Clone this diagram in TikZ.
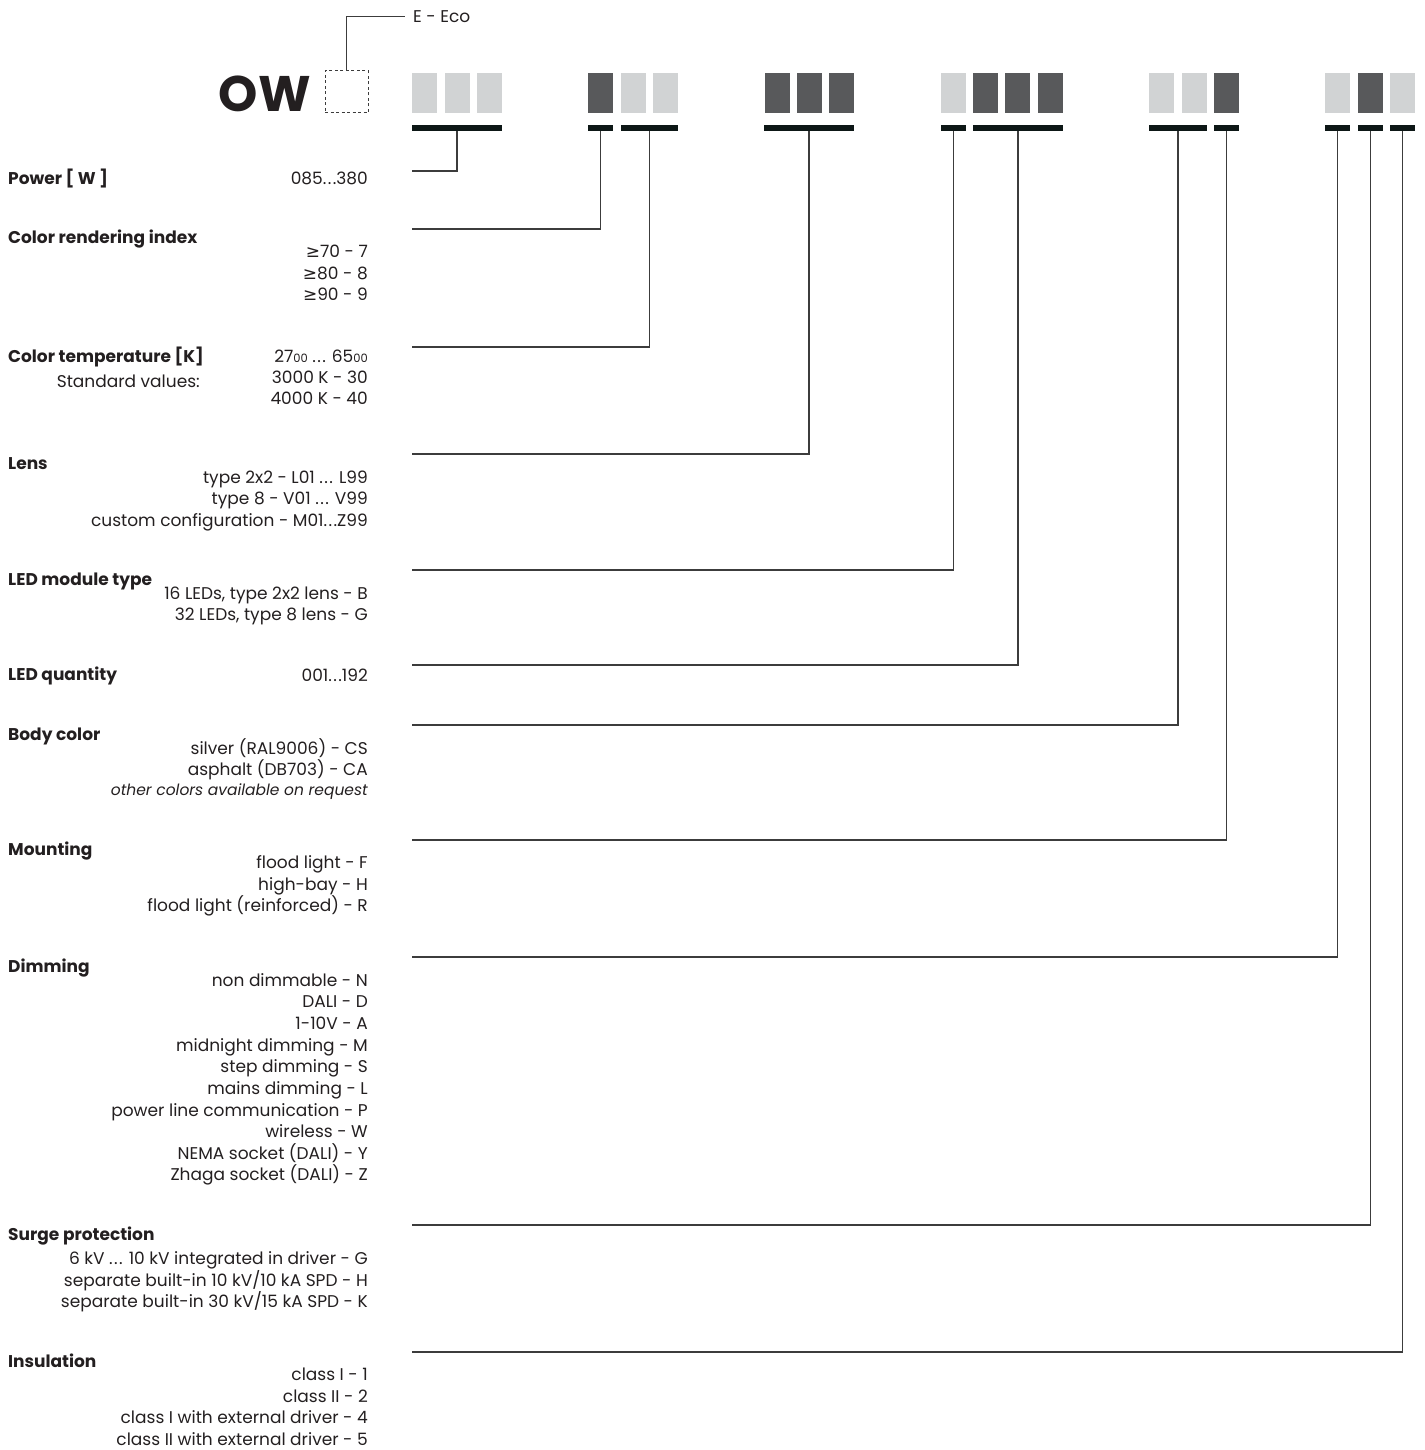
\documentclass[tikz,border=0pt]{standalone}
\usepackage{fontspec}
\setmainfont{Poppins}
\newfontfamily\symfont{DejaVu Sans}
\definecolor{BoxLight}{HTML}{D1D3D4}
\definecolor{BoxDark}{HTML}{58595B}
\definecolor{BarBlack}{HTML}{0D1716}
\definecolor{LineGray}{HTML}{3C3C3C}
\definecolor{TextBlack}{HTML}{231F20}
\tikzstyle{LightBox}=[rectangle, fill=BoxLight, minimum width=25pt, minimum height=40pt, inner sep=0pt]
\tikzstyle{DarkBox}=[LightBox, fill=BoxDark]
\tikzstyle{CodeBar}=[rectangle, fill=BarBlack, minimum height=6pt, inner sep=0pt]
\tikzstyle{Leader}=[draw=LineGray, line width=1.3pt]
\tikzstyle{KeyNode}=[anchor=base west, inner sep=0pt, text=TextBlack, font=\bfseries\fontsize{17}{20}\selectfont]
\tikzstyle{ValNode}=[anchor=base east, inner sep=0pt, text=TextBlack, font=\fontsize{17}{20}\selectfont]
\newcommand{\atleast}{{\symfont\char"2265}}
\newcommand{\smallzero}{{\fontsize{11.5}{11.5}\selectfont 00}}
\newcommand{\threedots}{.\kern1.4pt.\kern1.4pt.}

\begin{document}
\begin{tikzpicture}[x=1pt, y=-1pt]
\useasboundingbox (0,0) rectangle (1424,1450);

% type prefix
\node[anchor=base east, inner sep=0pt, text=TextBlack, font=\bfseries\fontsize{50}{50}\selectfont](OW) at (311,112) {OW};
\node[rectangle, draw=LineGray, line width=1pt, dash pattern=on 3pt off 2.5pt, minimum width=43pt, minimum height=42pt, inner sep=0pt](EcoBox) at (346.5,92) {};
\node[ValNode, anchor=base west](Eco) at (413,23) {E - Eco};
\coordinate (EcoEnd) at (405,17);
\draw[Leader, line width=1pt](EcoBox.north) |- (EcoEnd);

% code boxes
\node[LightBox](P1) at (424.5,93) {};
\node[LightBox](P2) at (457.5,93) {};
\node[LightBox](P3) at (489.5,93) {};
\node[DarkBox](C1) at (600.5,93) {};
\node[LightBox](C2) at (633.5,93) {};
\node[LightBox](C3) at (665.5,93) {};
\node[DarkBox](L1) at (777.5,93) {};
\node[DarkBox](L2) at (809.5,93) {};
\node[DarkBox](L3) at (841.5,93) {};
\node[LightBox](M1) at (953.5,93) {};
\node[DarkBox](M2) at (985.5,93) {};
\node[DarkBox](M3) at (1017.5,93) {};
\node[DarkBox](M4) at (1050.5,93) {};
\node[LightBox](B1) at (1161.5,93) {};
\node[LightBox](B2) at (1194.5,93) {};
\node[DarkBox](B3) at (1226.5,93) {};
\node[LightBox](D1) at (1337.5,93) {};
\node[DarkBox](D2) at (1370.5,93) {};
\node[LightBox](D3) at (1402.5,93) {};

% bars under the boxes
\node[CodeBar, minimum width=90pt](PowerBar) at (457,128) {};
\node[CodeBar, minimum width=25pt](CriBar) at (600.5,128) {};
\node[CodeBar, minimum width=57pt](TempBar) at (649.5,128) {};
\node[CodeBar, minimum width=90pt](LensBar) at (809,128) {};
\node[CodeBar, minimum width=25pt](ModBar) at (953.5,128) {};
\node[CodeBar, minimum width=90pt](QtyBar) at (1018,128) {};
\node[CodeBar, minimum width=58pt](ColBar) at (1178,128) {};
\node[CodeBar, minimum width=25pt](MountBar) at (1226.5,128) {};
\node[CodeBar, minimum width=25pt](DimBar) at (1337.5,128) {};
\node[CodeBar, minimum width=25pt](SurgeBar) at (1370.5,128) {};
\node[CodeBar, minimum width=25pt](InsBar) at (1402.5,128) {};

% leader ends
\coordinate (PowerEnd) at (412,171);
\coordinate (CriEnd) at (412,229);
\coordinate (TempEnd) at (412,347);
\coordinate (LensEnd) at (412,454);
\coordinate (ModEnd) at (412,570);
\coordinate (QtyEnd) at (412,665);
\coordinate (ColEnd) at (412,725);
\coordinate (MountEnd) at (412,840);
\coordinate (DimEnd) at (412,957);
\coordinate (SurgeEnd) at (412,1225);
\coordinate (InsEnd) at (412,1352);

\draw[Leader](PowerBar) |- (PowerEnd);
\draw[Leader](CriBar) |- (CriEnd);
\draw[Leader](TempBar) |- (TempEnd);
\draw[Leader](LensBar) |- (LensEnd);
\draw[Leader](ModBar) |- (ModEnd);
\draw[Leader](QtyBar) |- (QtyEnd);
\draw[Leader](ColBar) |- (ColEnd);
\draw[Leader](MountBar) |- (MountEnd);
\draw[Leader](DimBar) |- (DimEnd);
\draw[Leader](SurgeBar) |- (SurgeEnd);
\draw[Leader](InsBar) |- (InsEnd);

% power
\node[KeyNode](PowerKey) at (8,185) {Power [ W ]};
\node[ValNode](PowerVal) at (368,185) {085\threedots380};

% color rendering index
\node[KeyNode](CriKey) at (8,243) {Color rendering index};
\node[ValNode](Cri7) at (368,257) {\atleast70 - 7};
\node[ValNode](Cri8) at (368,279) {\atleast80 - 8};
\node[ValNode](Cri9) at (368,300) {\atleast90 - 9};

% color temperature
\node[KeyNode](TempKey) at (8,362) {Color temperature [K]};
\node[ValNode](TempStd) at (200,387) {Standard values:};
\node[ValNode](TempRange) at (368,362) {27\smallzero{} \threedots{} 65\smallzero};
\node[ValNode](Temp30) at (368,383) {3000 K - 30};
\node[ValNode](Temp40) at (368,404) {4000 K - 40};

% lens
\node[KeyNode](LensKey) at (8,469) {Lens};
\node[ValNode](LensL) at (368,483) {type 2x2 - L01 \threedots{} L99};
\node[ValNode](LensV) at (368,504) {type 8 - V01 \threedots{} V99};
\node[ValNode](LensM) at (368,526) {custom configuration - M01\threedots Z99};

% led module type
\node[KeyNode](ModKey) at (8,585) {LED module type};
\node[ValNode](ModB) at (368,599) {16 LEDs, type 2x2 lens - B};
\node[ValNode](ModG) at (368,620) {32 LEDs, type 8 lens - G};

% led quantity
\node[KeyNode](QtyKey) at (8,680) {LED quantity};
\node[ValNode](QtyVal) at (368,681) {001\threedots192};

% body color
\node[KeyNode](ColKey) at (8,740) {Body color};
\node[ValNode](ColCS) at (368,754) {silver (RAL9006) - CS};
\node[ValNode](ColCA) at (368,775) {asphalt (DB703) - CA};
\node[ValNode, font=\itshape\fontsize{15.5}{18}\selectfont](ColOther) at (368,795) {other colors available on request};

% mounting
\node[KeyNode](MountKey) at (8,855) {Mounting};
\node[ValNode](MountF) at (368,868) {flood light - F};
\node[ValNode](MountH) at (368,890) {high-bay - H};
\node[ValNode](MountR) at (368,911) {flood light (reinforced) - R};

% dimming
\node[KeyNode](DimKey) at (8,972) {Dimming};
\node[ValNode](DimN) at (368,986) {non dimmable - N};
\node[ValNode](DimD) at (368,1007) {DALI - D};
\node[ValNode](DimA) at (368,1029) {1-10V - A};
\node[ValNode](DimM) at (368,1051) {midnight dimming - M};
\node[ValNode](DimS) at (368,1072) {step dimming - S};
\node[ValNode](DimL) at (368,1094) {mains dimming - L};
\node[ValNode](DimP) at (368,1116) {power line communication - P};
\node[ValNode](DimW) at (368,1137) {wireless - W};
\node[ValNode](DimY) at (368,1159) {NEMA socket (DALI) - Y};
\node[ValNode](DimZ) at (368,1180) {Zhaga socket (DALI) - Z};

% surge protection
\node[KeyNode](SurgeKey) at (8,1240) {Surge protection};
\node[ValNode](SurgeG) at (368,1264) {6 kV \threedots{} 10 kV integrated in driver - G};
\node[ValNode](SurgeH) at (368,1286) {separate built-in 10 kV/10 kA SPD - H};
\node[ValNode](SurgeK) at (368,1307) {separate built-in 30 kV/15 kA SPD - K};

% insulation
\node[KeyNode](InsKey) at (8,1367) {Insulation};
\node[ValNode](Ins1) at (368,1380) {class I - 1};
\node[ValNode](Ins2) at (368,1402) {class II - 2};
\node[ValNode](Ins4) at (368,1423) {class I with external driver - 4};
\node[ValNode](Ins5) at (368,1445) {class II with external driver - 5};
\end{tikzpicture}
\end{document}
